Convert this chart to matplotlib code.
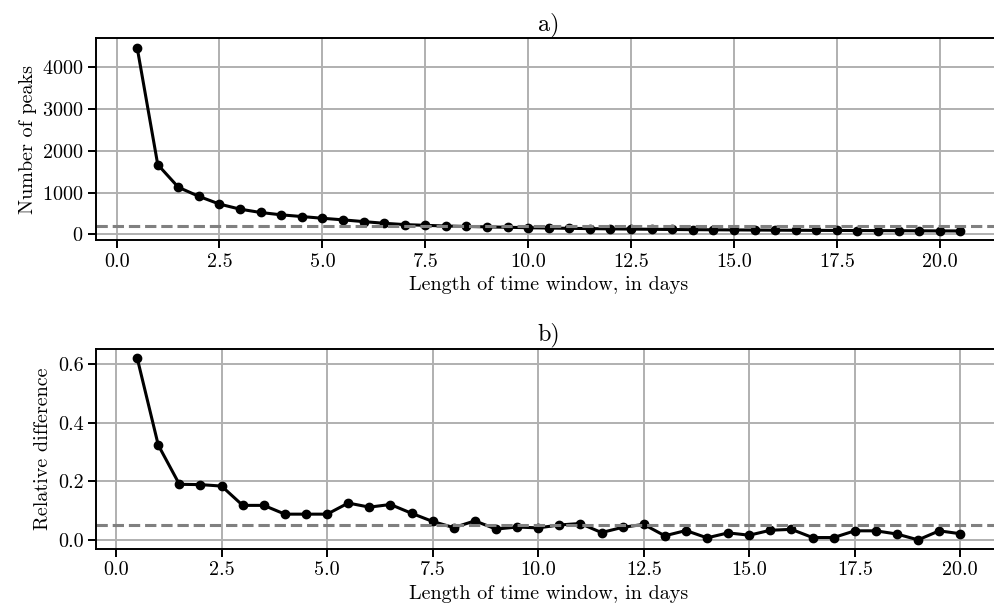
import numpy as np
import matplotlib
matplotlib.use("Agg")
import matplotlib.pyplot as plt

plt.rcParams['font.family'] = 'serif'
plt.rcParams['font.serif'] = ['cmr10', 'DejaVu Serif']
plt.rcParams['mathtext.fontset'] = 'cm'
plt.rcParams['axes.formatter.use_mathtext'] = True
plt.rcParams['font.size'] = 14.5

# a) number of peaks per time window length
window_a = [0.5, 1.0, 1.5, 2.0, 2.5, 3.0, 3.5, 4.0, 4.5, 5.0, 5.5, 6.0, 6.5, 7.0,
            7.5, 8.0, 8.5, 9.0, 9.5, 10.0, 10.5, 11.0, 11.5, 12.0, 12.5, 13.0,
            13.5, 14.0, 14.5, 15.0, 15.5, 16.0, 16.5, 17.0, 17.5, 18.0, 18.5,
            19.0, 19.5, 20.0, 20.5]
n_peaks = [4470, 1670, 1128, 910, 725, 604, 524, 468, 427, 386, 348, 306, 266,
           234, 217, 200, 190, 180, 170, 160, 152, 145, 138, 132, 127, 122, 117,
           113, 110, 107, 104, 101, 98, 96, 94, 92, 90, 88, 86, 84, 82]
peaks_ref = 200

# b) relative difference
window_b = [0.5, 1.0, 1.5, 2.0, 2.5, 3.0, 3.5, 4.0, 4.5, 5.0, 5.5, 6.0, 6.5, 7.0,
            7.5, 8.0, 8.5, 9.0, 9.5, 10.0, 10.5, 11.0, 11.5, 12.0, 12.5, 13.0,
            13.5, 14.0, 14.5, 15.0, 15.5, 16.0, 16.5, 17.0, 17.5, 18.0, 18.5,
            19.0, 19.5, 20.0]
rel_diff = [0.622, 0.324, 0.190, 0.189, 0.184, 0.118, 0.118, 0.088, 0.088, 0.088,
            0.126, 0.112, 0.121, 0.091, 0.063, 0.042, 0.065, 0.037, 0.044, 0.041,
            0.051, 0.056, 0.025, 0.043, 0.053, 0.014, 0.032, 0.007, 0.024, 0.016,
            0.033, 0.036, 0.008, 0.008, 0.031, 0.031, 0.020, 0.0, 0.031, 0.021]
diff_ref = 0.05

xticks = [0, 2.5, 5, 7.5, 10, 12.5, 15, 17.5, 20]
xticklabels = ['0.0', '2.5', '5.0', '7.5', '10.0', '12.5', '15.0', '17.5', '20.0']

fig = plt.figure(figsize=(9.95, 6.11), dpi=100)
ax1 = fig.add_axes([0.0965, 0.607, 0.91, 0.330])
ax2 = fig.add_axes([0.0965, 0.1015, 0.91, 0.3275])

def style(ax):
    ax.grid(True, color='#b0b0b0', linewidth=1.4)
    ax.set_axisbelow(True)
    for s in ax.spines.values():
        s.set_linewidth(1.4)
    ax.tick_params(width=1.4, length=5.5)

ax1.plot(window_a, n_peaks, 'o-', color='black', linewidth=2.2, markersize=6)
ax1.axhline(peaks_ref, color='gray', linestyle='--', linewidth=2.2)
ax1.set_xlabel('Length of time window, in days')
ax1.set_ylabel('Number of peaks')
ax1.set_title('a)')
ax1.set_yticks([0, 1000, 2000, 3000, 4000])
ax1.set_xticks(xticks)
ax1.set_xticklabels(xticklabels)
style(ax1)

ax2.plot(window_b, rel_diff, 'o-', color='black', linewidth=2.2, markersize=6)
ax2.axhline(diff_ref, color='gray', linestyle='--', linewidth=2.2)
ax2.set_xlabel('Length of time window, in days')
ax2.set_ylabel('Relative difference')
ax2.set_title('b)')
ax2.set_yticks([0.0, 0.2, 0.4, 0.6])
ax2.set_yticklabels(['0.0', '0.2', '0.4', '0.6'])
ax2.set_xticks(xticks)
ax2.set_xticklabels(xticklabels)
style(ax2)

fig.savefig('out.png', dpi=100)
